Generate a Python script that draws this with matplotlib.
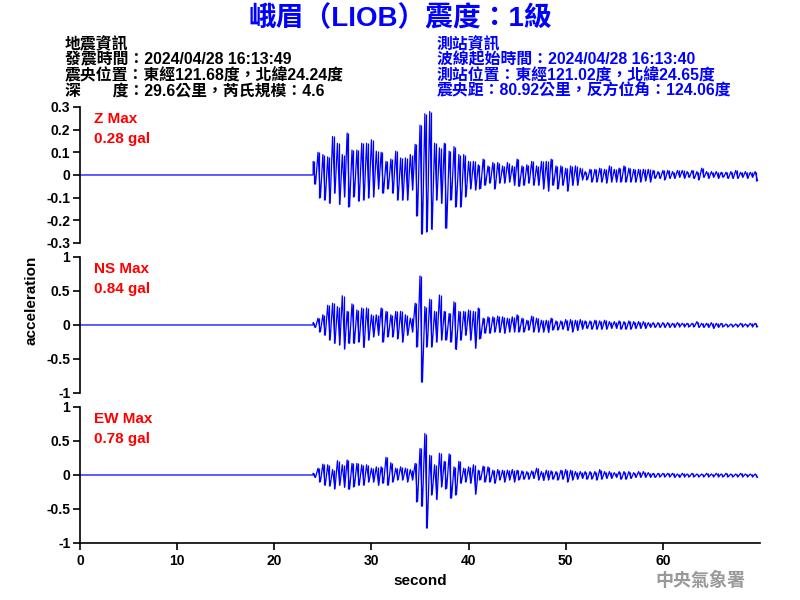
import numpy as np
import matplotlib
matplotlib.use("Agg")
import matplotlib.pyplot as plt

# ---------------- data ----------------
onset_time = 24.0     # s, first bin start
bin_width = 0.5       # s
x_max = 70

z_max = [0.06, 0.10, 0.09, 0.08, 0.17, 0.14, 0.09, 0.185, 0.11, 0.11, 0.14, 0.14, 0.155, 0.105, 0.10, 0.06,
         0.07, 0.105, 0.075, 0.075, 0.09, 0.135, 0.22, 0.27, 0.28, 0.14, 0.12, 0.14, 0.105, 0.125, 0.09, 0.09,
         0.06, 0.06, 0.045, 0.07, 0.04, 0.055, 0.055, 0.04, 0.055, 0.04, 0.07, 0.04, 0.045, 0.06, 0.04, 0.06,
         0.06, 0.07, 0.04, 0.04, 0.03, 0.04, 0.04, 0.03, 0.015, 0.025, 0.025, 0.03, 0.025, 0.04, 0.025, 0.03,
         0.04, 0.03, 0.025, 0.025, 0.025, 0.025, 0.02, 0.015, 0.02, 0.02, 0.015, 0.02, 0.02, 0.015, 0.02, 0.015,
         0.03, 0.015, 0.015, 0.015, 0.012, 0.012, 0.015, 0.02, 0.012, 0.015, 0.012, 0.015]
z_min = [-0.04, -0.10, -0.11, -0.125, -0.08, -0.13, -0.095, -0.14, -0.095, -0.115, -0.11, -0.10, -0.095, -0.06, -0.08, -0.06,
         -0.08, -0.11, -0.11, -0.11, -0.065, -0.18, -0.26, -0.25, -0.24, -0.11, -0.125, -0.235, -0.11, -0.14, -0.14, -0.095,
         -0.06, -0.065, -0.06, -0.045, -0.035, -0.06, -0.035, -0.035, -0.03, -0.045, -0.05, -0.045, -0.035, -0.045, -0.045, -0.06,
         -0.07, -0.045, -0.06, -0.045, -0.07, -0.045, -0.045, -0.02, -0.02, -0.03, -0.03, -0.03, -0.035, -0.03, -0.03, -0.03,
         -0.03, -0.03, -0.03, -0.03, -0.025, -0.03, -0.015, -0.015, -0.02, -0.015, -0.015, -0.01, -0.015, -0.01, -0.015, -0.02,
         -0.01, -0.015, -0.01, -0.015, -0.01, -0.015, -0.015, -0.015, -0.01, -0.015, -0.01, -0.025]

ns_max = [0.035, 0.10, 0.15, 0.29, 0.32, 0.27, 0.43, 0.20, 0.31, 0.22, 0.25, 0.25, 0.15, 0.15, 0.25, 0.20,
          0.15, 0.20, 0.20, 0.15, 0.10, 0.32, 0.72, 0.27, 0.38, 0.20, 0.44, 0.20, 0.17, 0.34, 0.20, 0.20,
          0.22, 0.20, 0.25, 0.10, 0.12, 0.12, 0.13, 0.12, 0.10, 0.12, 0.15, 0.10, 0.07, 0.13, 0.10, 0.07,
          0.07, 0.10, 0.06, 0.06, 0.08, 0.08, 0.07, 0.08, 0.06, 0.06, 0.07, 0.06, 0.07, 0.05, 0.05, 0.06,
          0.05, 0.06, 0.05, 0.05, 0.05, 0.035, 0.035, 0.035, 0.035, 0.035, 0.025, 0.035, 0.025, 0.025, 0.025, 0.05,
          0.025, 0.025, 0.035, 0.025, 0.025, 0.015, 0.015, 0.015, 0.025, 0.015, 0.025, 0.025]
ns_min = [-0.035, -0.10, -0.15, -0.22, -0.27, -0.29, -0.35, -0.27, -0.27, -0.25, -0.33, -0.22, -0.17, -0.15, -0.25, -0.17,
          -0.17, -0.20, -0.25, -0.15, -0.10, -0.32, -0.84, -0.32, -0.32, -0.25, -0.22, -0.22, -0.25, -0.36, -0.22, -0.15,
          -0.22, -0.34, -0.20, -0.12, -0.12, -0.10, -0.11, -0.12, -0.10, -0.10, -0.10, -0.10, -0.07, -0.10, -0.10, -0.10,
          -0.11, -0.07, -0.07, -0.06, -0.08, -0.10, -0.08, -0.06, -0.05, -0.06, -0.06, -0.06, -0.06, -0.05, -0.05, -0.06,
          -0.06, -0.06, -0.05, -0.05, -0.05, -0.035, -0.035, -0.035, -0.035, -0.035, -0.035, -0.025, -0.025, -0.025, -0.025, -0.035,
          -0.035, -0.035, -0.05, -0.035, -0.025, -0.025, -0.025, -0.025, -0.025, -0.025, -0.025, -0.025]

ew_max = [0.025, 0.10, 0.16, 0.15, 0.08, 0.21, 0.15, 0.22, 0.17, 0.17, 0.15, 0.15, 0.10, 0.12, 0.12, 0.26,
          0.18, 0.10, 0.12, 0.10, 0.08, 0.17, 0.39, 0.61, 0.29, 0.15, 0.32, 0.20, 0.31, 0.12, 0.20, 0.10,
          0.12, 0.15, 0.07, 0.13, 0.12, 0.07, 0.08, 0.07, 0.07, 0.08, 0.07, 0.06, 0.05, 0.06, 0.10, 0.05,
          0.07, 0.06, 0.05, 0.07, 0.08, 0.07, 0.05, 0.05, 0.05, 0.05, 0.05, 0.08, 0.05, 0.05, 0.035, 0.05,
          0.05, 0.05, 0.035, 0.05, 0.05, 0.035, 0.025, 0.025, 0.025, 0.025, 0.025, 0.015, 0.025, 0.015, 0.025, 0.015,
          0.015, 0.025, 0.015, 0.025, 0.015, 0.025, 0.015, 0.015, 0.025, 0.015, 0.015, 0.015]
ew_min = [-0.035, -0.10, -0.15, -0.16, -0.20, -0.15, -0.18, -0.21, -0.17, -0.15, -0.15, -0.10, -0.10, -0.15, -0.12, -0.15,
          -0.10, -0.07, -0.07, -0.10, -0.07, -0.39, -0.46, -0.78, -0.29, -0.36, -0.17, -0.20, -0.34, -0.29, -0.12, -0.10,
          -0.12, -0.28, -0.07, -0.10, -0.10, -0.12, -0.07, -0.10, -0.07, -0.10, -0.07, -0.06, -0.06, -0.05, -0.07, -0.08,
          -0.07, -0.06, -0.07, -0.06, -0.10, -0.07, -0.06, -0.05, -0.06, -0.055, -0.07, -0.06, -0.05, -0.05, -0.035, -0.06,
          -0.06, -0.05, -0.035, -0.035, -0.035, -0.035, -0.035, -0.025, -0.025, -0.025, -0.035, -0.035, -0.025, -0.025, -0.025, -0.025,
          -0.025, -0.025, -0.025, -0.025, -0.025, -0.025, -0.025, -0.025, -0.025, -0.025, -0.025, -0.035]

channels = ["Z", "NS", "EW"]
max_labels = ["0.28 gal", "0.84 gal", "0.78 gal"]
y_limits = [0.3, 1.0, 1.0]
y_ticks = [[0.3, 0.2, 0.1, 0, -0.1, -0.2, -0.3], [1, 0.5, 0, -0.5, -1], [1, 0.5, 0, -0.5, -1]]
y_ticklabels = [["0.3", "0.2", "0.1", "0", "-0.1", "-0.2", "-0.3"],
                ["1", "0.5", "0", "-0.5", "-1"], ["1", "0.5", "0", "-0.5", "-1"]]
x_ticks = [0, 10, 20, 30, 40, 50, 60]

title = "峨眉（LIOB）震度：1級"
quake_info = ["地震資訊",
              "發震時間：2024/04/28 16:13:49",
              "震央位置：東經121.68度，北緯24.24度",
              "深　　度：29.6公里，芮氏規模：4.6"]
station_info = ["測站資訊",
                "波線起始時間：2024/04/28 16:13:40",
                "測站位置：東經121.02度，北緯24.65度",
                "震央距：80.92公里，反方位角：124.06度"]
agency = "中央氣象署"

# ---------------- drawing ----------------
FAM = ["Liberation Sans", "Noto Sans CJK TC", "DejaVu Sans"]
plt.rcParams["font.family"] = FAM

fig = plt.figure(figsize=(8, 6), dpi=100)

positions = [(0.1, 0.595, 0.85, 0.2267), (0.1, 0.345, 0.85, 0.2267), (0.1, 0.095, 0.85, 0.2267)]
series = [(z_max, z_min), (ns_max, ns_min), (ew_max, ew_min)]
BLUE = "#0000ff"

for i, (pos, (hi, lo)) in enumerate(zip(positions, series)):
    ax = fig.add_axes(pos)
    n = len(hi)
    t_bins = [onset_time + k * bin_width for k in range(n)]
    xs = [0.0, onset_time]
    ys = [0.0, 0.0]
    for k in range(n):
        xs += [t_bins[k], t_bins[k] + bin_width / 2]
        ys += [hi[k], lo[k]]
    # min/max envelope of each bin as a vertical stroke, plus the trace through the extrema
    ax.vlines([t + bin_width / 4 for t in t_bins], lo, hi, color=BLUE, lw=0.9)
    ax.plot(xs, ys, color=BLUE, lw=0.9)
    ax.set_xlim(0, x_max)
    ax.set_ylim(-y_limits[i], y_limits[i])
    ax.set_yticks(y_ticks[i])
    ax.set_yticklabels(y_ticklabels[i], fontsize=10, fontweight="bold")
    for s in ["top", "right"]:
        ax.spines[s].set_visible(False)
    ax.spines["left"].set_linewidth(1.2)
    ax.tick_params(axis="y", direction="out", length=5, width=1.2, pad=2)
    if i < 2:
        ax.spines["bottom"].set_visible(False)
        ax.set_xticks([])
    else:
        ax.spines["bottom"].set_linewidth(1.2)
        ax.set_xticks(x_ticks)
        ax.set_xticklabels([str(v) for v in x_ticks], fontsize=10, fontweight="bold")
        ax.tick_params(axis="x", direction="out", length=5, width=1.2, pad=3)
        ax.set_xlabel("second", fontsize=11, fontweight="bold", labelpad=4)
    ax.text(0.02, 0.965, f"{channels[i]} Max", transform=ax.transAxes, color="red",
            fontsize=11, fontweight="bold", va="top", ha="left")
    ax.text(0.02, 0.815, max_labels[i], transform=ax.transAxes, color="red",
            fontsize=11, fontweight="bold", va="top", ha="left")

fig.text(0.04, 0.5, "acceleration", rotation=90, ha="center", va="center",
         fontsize=11, fontweight="bold")

fig.text(0.5, 0.968, title, ha="center", va="center", color=BLUE,
         fontsize=20, fontweight="bold")

line_y = [0.926, 0.901, 0.875, 0.849]
for txt, y in zip(quake_info, line_y):
    fig.text(0.081, y, txt, ha="left", va="center", color="black", fontsize=11.4, fontweight="bold")
for txt, y in zip(station_info, line_y):
    fig.text(0.546, y, txt, ha="left", va="center", color=BLUE, fontsize=11.4, fontweight="bold")

fig.text(0.876, 0.032, agency, ha="center", va="center", color="#999999",
         fontsize=13, fontweight="bold", family=["Noto Sans CJK TC"])

fig.savefig("out.png", dpi=100)
